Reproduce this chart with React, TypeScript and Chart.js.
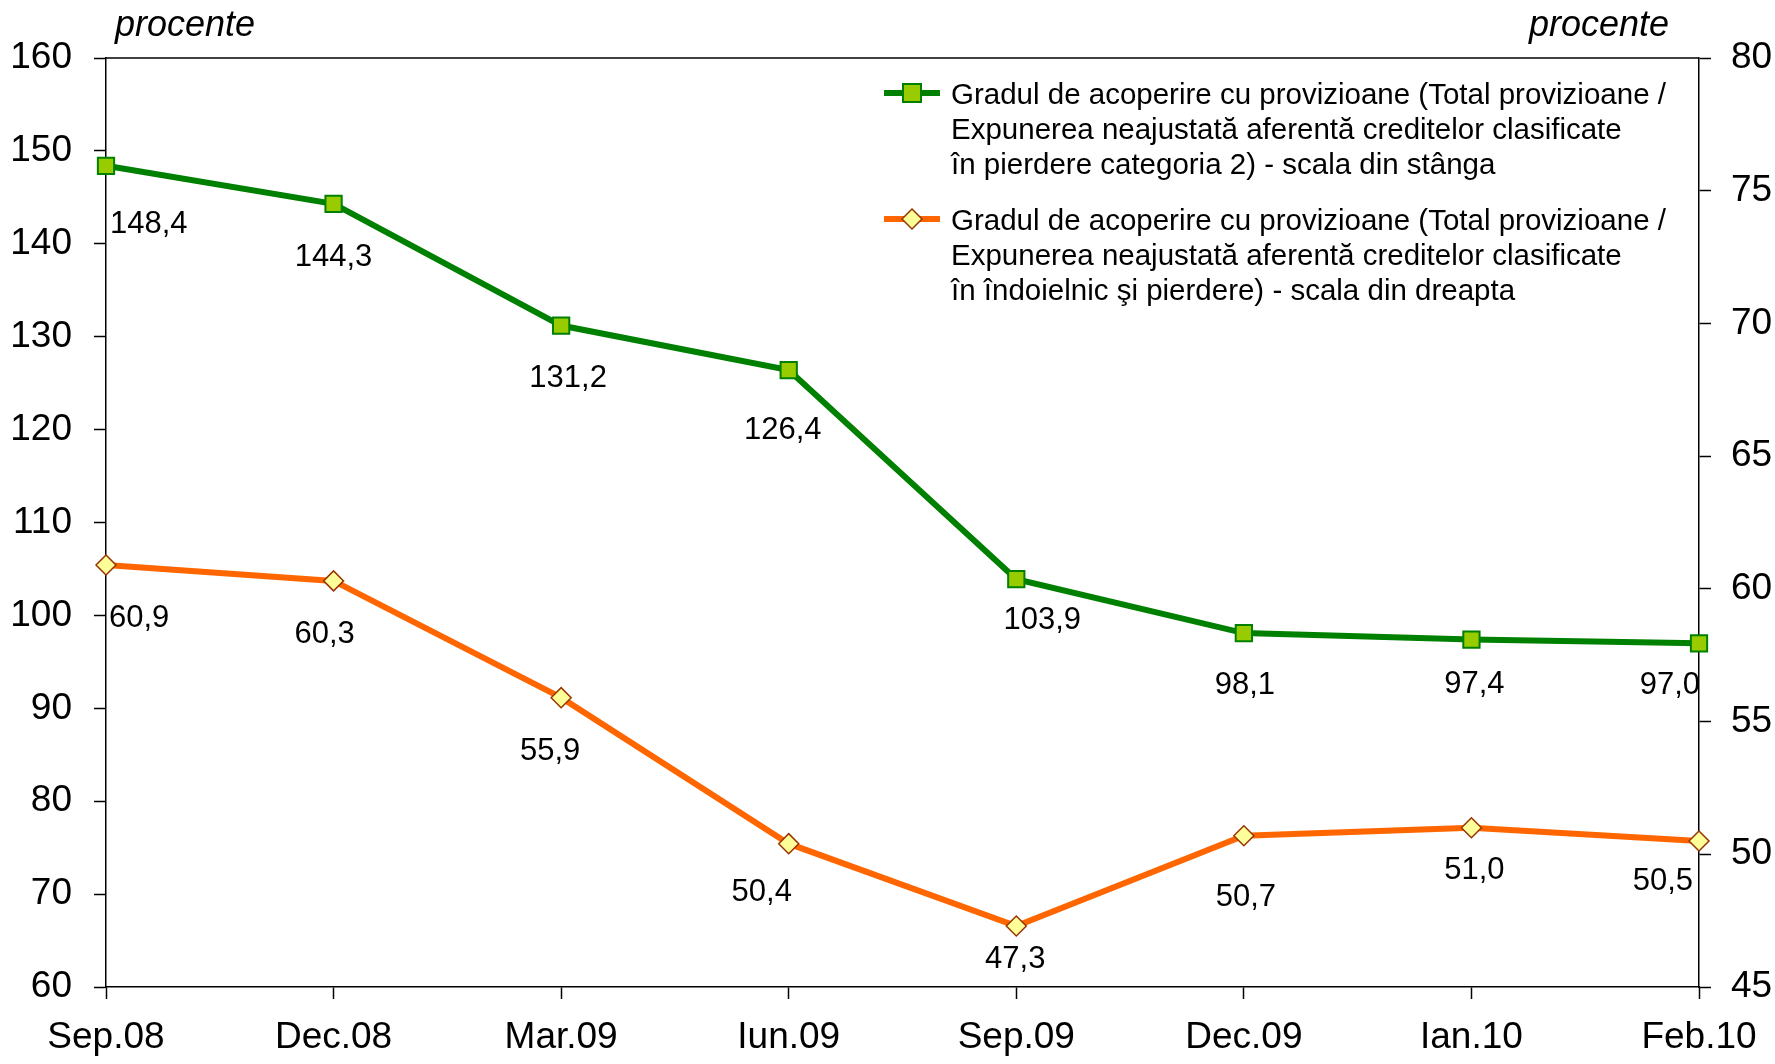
import React, { useEffect, useRef } from 'react';
import { Chart, registerables } from 'chart.js';

Chart.register(...registerables);

const categories = ['Sep.08', 'Dec.08', 'Mar.09', 'Iun.09', 'Sep.09', 'Dec.09', 'Ian.10', 'Feb.10'];
const coverageLossCat2 = [148.4, 144.3, 131.2, 126.4, 103.9, 98.1, 97.4, 97.0];
const coverageDoubtfulLoss = [60.9, 60.3, 55.9, 50.4, 47.3, 50.7, 51.0, 50.5];
const leftAxisRange = [60, 160, 10];
const rightAxisRange = [45, 80, 5];
const axisTitle = 'procente';
const legendLines1 = [
  'Gradul de acoperire cu provizioane (Total provizioane /',
  'Expunerea neajustată aferentă creditelor clasificate',
  'în pierdere categoria 2) - scala din stânga',
];
const legendLines2 = [
  'Gradul de acoperire cu provizioane (Total provizioane /',
  'Expunerea neajustată aferentă creditelor clasificate',
  'în îndoielnic şi pierdere) - scala din dreapta',
];

const FONT = 'Liberation Sans, Arial, sans-serif';
const GREEN = '#008000';
const GREEN_FILL = '#99CC00';
const ORANGE = '#FF6600';
const ORANGE_FILL = '#FFFF99';
const ORANGE_BORDER = '#993300';

// label placement (style): [dx, dy, align]
const greenLabelPos: [number, number, CanvasTextAlign][] = [
  [4, 59, 'left'], [0, 54, 'center'], [7, 53, 'center'], [-6, 60, 'center'],
  [26, 41, 'center'], [1, 52, 'center'], [3, 45, 'center'], [1, 42, 'right'],
];
const orangeLabelPos: [number, number, CanvasTextAlign][] = [
  [3, 53, 'left'], [-9, 54, 'center'], [-11, 54, 'center'], [-27, 49, 'center'],
  [-1, 34, 'center'], [2, 62, 'center'], [3, 43, 'center'], [-6, 40, 'right'],
];

const fmt = (v: number) => v.toFixed(1).replace('.', ',');

const overlayPlugin = {
  id: 'overlay',
  afterDatasetsDraw(chart: any) {
    const ctx = chart.ctx as CanvasRenderingContext2D;
    const area = chart.chartArea;
    ctx.save();
    // top border
    ctx.strokeStyle = '#000';
    ctx.lineWidth = 1.5;
    ctx.beginPath();
    ctx.moveTo(area.left, area.top);
    ctx.lineTo(area.right, area.top);
    ctx.stroke();

    // data labels
    ctx.fillStyle = '#000';
    ctx.font = `31px ${FONT}`;
    ctx.textBaseline = 'middle';
    const drawLabels = (dsIndex: number, values: number[], pos: [number, number, CanvasTextAlign][]) => {
      const meta = chart.getDatasetMeta(dsIndex);
      meta.data.forEach((pt: any, i: number) => {
        const [dx, dy, align] = pos[i];
        ctx.textAlign = align;
        ctx.fillText(fmt(values[i]), pt.x + dx, pt.y + dy);
      });
    };
    drawLabels(0, coverageLossCat2, greenLabelPos);
    drawLabels(1, coverageDoubtfulLoss, orangeLabelPos);

    // axis titles
    ctx.font = `italic 36px ${FONT}`;
    ctx.textAlign = 'center';
    ctx.fillText(axisTitle, 185, 26);
    ctx.fillText(axisTitle, 1599, 26);

    // legend
    const lx1 = 884, lx2 = 940, tx = 951;
    const drawEntry = (y0: number, lines: string[], color: string, kind: 'rect' | 'diamond') => {
      ctx.strokeStyle = color;
      ctx.lineWidth = 6;
      ctx.beginPath();
      ctx.moveTo(lx1, y0 - 3);
      ctx.lineTo(lx2, y0 - 3);
      ctx.stroke();
      const cx = (lx1 + lx2) / 2, cy = y0 - 3;
      ctx.beginPath();
      if (kind === 'rect') {
        ctx.rect(cx - 9, cy - 9, 18, 18);
        ctx.fillStyle = GREEN_FILL;
        ctx.fill();
        ctx.strokeStyle = GREEN;
        ctx.lineWidth = 2;
        ctx.stroke();
      } else {
        ctx.moveTo(cx - 10, cy);
        ctx.lineTo(cx, cy - 10);
        ctx.lineTo(cx + 10, cy);
        ctx.lineTo(cx, cy + 10);
        ctx.closePath();
        ctx.fillStyle = ORANGE_FILL;
        ctx.fill();
        ctx.strokeStyle = ORANGE_BORDER;
        ctx.lineWidth = 1.5;
        ctx.stroke();
      }
      ctx.fillStyle = '#000';
      ctx.font = `29.5px ${FONT}`;
      ctx.textAlign = 'left';
      ctx.textBaseline = 'middle';
      lines.forEach((t, i) => ctx.fillText(t, tx, y0 + i * 35));
    };
    drawEntry(96, legendLines1, GREEN, 'rect');
    drawEntry(222, legendLines2, ORANGE, 'diamond');
    ctx.restore();
  },
};

export default function App() {
  const ref = useRef<HTMLCanvasElement | null>(null);
  useEffect(() => {
    if (!ref.current) return;
    const axisCommon = {
      grid: { drawOnChartArea: false, drawTicks: true, tickLength: 12, tickColor: '#000', tickWidth: 1.5 },
      border: { display: true, color: '#000', width: 1.5 },
    };
    const chart = new Chart(ref.current, {
      type: 'line',
      data: {
        labels: categories,
        datasets: [
          {
            label: legendLines1.join(' '),
            data: coverageLossCat2,
            yAxisID: 'y',
            borderColor: GREEN,
            borderWidth: 6,
            pointStyle: 'rect',
            pointRadius: 11.5,
            pointBackgroundColor: GREEN_FILL,
            pointBorderColor: GREEN,
            pointBorderWidth: 2,
            tension: 0,
            clip: false,
          },
          {
            label: legendLines2.join(' '),
            data: coverageDoubtfulLoss,
            yAxisID: 'y1',
            borderColor: ORANGE,
            borderWidth: 6,
            pointStyle: 'rectRot',
            pointRadius: 10,
            pointBackgroundColor: ORANGE_FILL,
            pointBorderColor: ORANGE_BORDER,
            pointBorderWidth: 1.5,
            tension: 0,
            clip: false,
          },
        ],
      },
      options: {
        responsive: false,
        animation: false,
        layout: { padding: { top: 58, left: 0, right: 0, bottom: 0 } },
        plugins: { legend: { display: false }, tooltip: { enabled: false } },
        scales: {
          x: {
            type: 'category',
            offset: false,
            ...axisCommon,
            ticks: { color: '#000', font: { size: 37, family: FONT }, padding: 17, maxRotation: 0, autoSkip: false },
            afterFit: (s: any) => { s.height = 77; },
          },
          y: {
            position: 'left',
            min: leftAxisRange[0],
            max: leftAxisRange[1],
            ...axisCommon,
            ticks: { stepSize: leftAxisRange[2], color: '#000', font: { size: 37, family: FONT }, padding: 22 },
            afterFit: (s: any) => { s.width = 106; },
          },
          y1: {
            position: 'right',
            min: rightAxisRange[0],
            max: rightAxisRange[1],
            ...axisCommon,
            ticks: { stepSize: rightAxisRange[2], color: '#000', font: { size: 37, family: FONT }, padding: 20 },
            afterFit: (s: any) => { s.width = 76; },
          },
        },
      } as any,
      plugins: [overlayPlugin],
    });
    return () => chart.destroy();
  }, []);
  return (
    <div style={{ position: 'absolute', left: 0, top: 0, width: 1775, height: 1064, background: '#fff' }}>
      <canvas ref={ref} width={1775} height={1064} style={{ width: 1775, height: 1064 }} />
    </div>
  );
}
